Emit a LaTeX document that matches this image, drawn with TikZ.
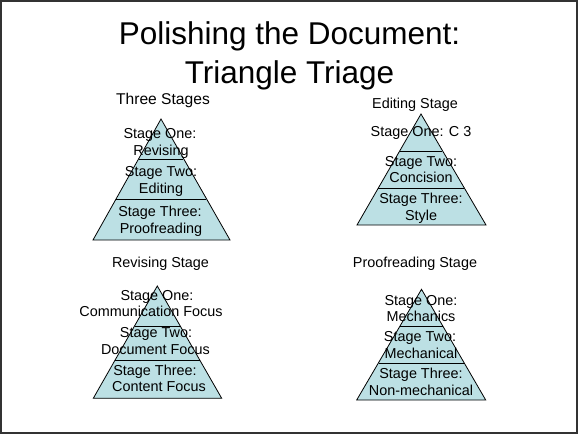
\documentclass[tikz,border=0pt]{standalone}
\usepackage{fontspec}
\setmainfont{Liberation Sans}
\begin{document}
\begin{tikzpicture}[x=1pt,y=-1pt,
  tri/.style={fill=trifill,draw=black,line width=0.8pt,line join=miter},
  sep/.style={draw=black,line width=0.8pt},
  lbl/.style={anchor=base,inner sep=0pt,font=\fontsize{14.4}{16.7}\selectfont},
  ttl/.style={anchor=base,inner sep=0pt,font=\fontsize{31.5}{38}\selectfont}]
\definecolor{trifill}{RGB}{188,224,228}
\definecolor{frame}{RGB}{51,51,51}
\useasboundingbox (0,0) rectangle (580,436);
\draw[frame,line width=1.6pt] (0.8,0.8) rectangle (577,433.2);
% title
\node[ttl] (t1) at (289.5,44.3) {Polishing the Document:};
\node[ttl] (t2) at (289.5,83.3) {Triangle Triage};
% headings
\node[lbl,font=\fontsize{15.6}{18}\selectfont] (h1) at (163,104) {Three Stages};
\node[lbl] (h2) at (415,108.3) {Editing Stage};
\node[lbl] (h3) at (160.5,267.3) {Revising Stage};
\node[lbl] (h4) at (415,267.3) {Proofreading Stage};
% triangle 1
\fill[trifill] (161,119) -- (93,240) -- (230,240) -- cycle;
\draw[sep] (138.6,159.3) -- (183.4,159.3);
\draw[sep] (115.7,199.7) -- (206.3,199.7);
\draw[tri,fill=none] (161,119) -- (93,240) -- (230,240) -- cycle;
\node[lbl] (a1) at (160,138.3) {Stage One:};
\node[lbl] (a2) at (161,155.3) {Revising};
\node[lbl] (a3) at (161,176.7) {Stage Two:};
\node[lbl] (a4) at (161,193.4) {Editing};
\node[lbl] (a5) at (160,216.7) {Stage Three:};
\node[lbl] (a6) at (161,233.4) {Proofreading};
% triangle 2
\fill[trifill] (421,114) -- (357,225) -- (486,225) -- cycle;
\draw[sep] (399.7,151) -- (442.3,151);
\draw[sep] (378.3,188) -- (463.7,188);
\draw[tri,fill=none] (421,114) -- (357,225) -- (486,225) -- cycle;
\node[lbl] (b1) at (421,136.7) {Stage One: C 3};
\node[lbl] (b2) at (421,166) {Stage Two:};
\node[lbl] (b3) at (421,182.7) {Concision};
\node[lbl] (b4) at (421,203.3) {Stage Three:};
\node[lbl] (b5) at (421,220) {Style};
% triangle 3
\fill[trifill] (157.3,286) -- (93.3,398.3) -- (221.7,398.3) -- cycle;
\draw[sep] (134.5,326) -- (180.1,326);
\draw[sep] (115.1,360) -- (199.5,360);
\draw[tri,fill=none] (157.3,286) -- (93.3,398.3) -- (221.7,398.3) -- cycle;
\node[lbl] (c1) at (157,300) {Stage One:};
\node[lbl] (c2) at (151,316.7) {Communication Focus};
\node[lbl] (c3) at (156,337.3) {Stage Two:};
\node[lbl] (c4) at (155.5,354) {Document Focus};
\node[lbl] (c5) at (155,375) {Stage Three:};
\node[lbl] (c6) at (159,391.7) {Content Focus};
% triangle 4
\fill[trifill] (421.5,289.3) -- (356.7,400) -- (485.7,400) -- cycle;
\draw[sep] (400.2,326) -- (442.8,326);
\draw[sep] (378.7,363) -- (464.3,363);
\draw[tri,fill=none] (421.5,289.3) -- (356.7,400) -- (485.7,400) -- cycle;
\node[lbl] (d1) at (421,305) {Stage One:};
\node[lbl] (d2) at (421,321.7) {Mechanics};
\node[lbl] (d3) at (420,341.7) {Stage Two:};
\node[lbl] (d4) at (421,358.3) {Mechanical};
\node[lbl] (d5) at (421,378.3) {Stage Three:};
\node[lbl] (d6) at (421,395) {Non-mechanical};
\end{tikzpicture}
\end{document}
